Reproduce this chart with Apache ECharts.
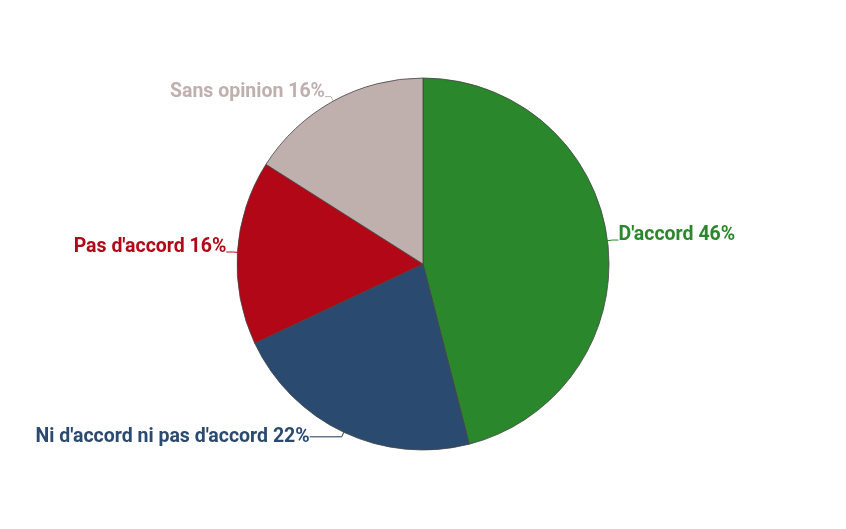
<!DOCTYPE html>
<html><head><meta charset="utf-8">
<script src="https://cdn.jsdelivr.net/npm/echarts@6/dist/echarts.min.js"></script>
<style>html,body{margin:0;padding:0;background:#fff}#c{width:846px;height:529px}</style>
</head><body><div id="c"></div>
<script>
const categories = ["D'accord", "Ni d'accord ni pas d'accord", "Pas d'accord", "Sans opinion"];
const values = [46, 22, 16, 16];
const colors = ['#2b872b', '#2a4a70', '#b20716', '#bfb0ae'];

const chart = echarts.init(document.getElementById('c'));
chart.setOption({
  animation: false,
  series: [{
    type: 'pie',
    center: [423, 264],
    radius: 186,
    startAngle: 90,
    clockwise: true,
    data: categories.map((n, i) => ({
      name: n, value: values[i],
      itemStyle: { color: colors[i] },
      label: {
        color: colors[i],
        formatter: i === 1 ? '{t|{b} {c}%}' : '{t|{b} {c}%}\n{s|}',
        rich: { t: { color: colors[i] } }
      },
      labelLine: { length2: i === 1 ? 32 : 6, lineStyle: { color: i === 1 ? '#1d3552' : colors[i] } }
    })),
    itemStyle: { borderColor: '#444', borderWidth: 0.8 },
    label: {
      fontFamily: 'Roboto',
      fontWeight: 'bold',
      fontSize: 19.5,
      distanceToLabelLine: 0,
      rich: {
        t: { fontFamily: 'Roboto', fontWeight: 'bold', fontSize: 19.5, lineHeight: 24 },
        s: { fontSize: 1, lineHeight: 10 }
      }
    },
    labelLine: { length: 5, length2: 6, smooth: false, lineStyle: { width: 1 } }
  }]
});
</script></body></html>
